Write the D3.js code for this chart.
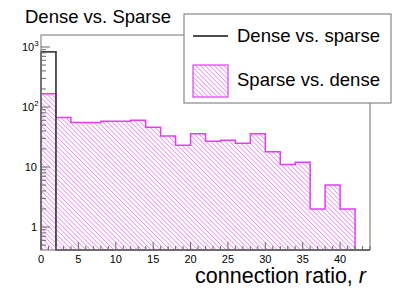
<!DOCTYPE html>
<html>
<head>
<meta charset="utf-8">
<script src="https://cdn.jsdelivr.net/npm/d3@7"></script>
<style>
  body { margin: 0; background: #fff; }
  text { font-family: "Liberation Sans", Arial, sans-serif; }
</style>
</head>
<body>
<div id="chart"></div>
<script>
var w = 411;
var h = 295;

// bins of width 2, from 0 to 44
var binLow = [0, 2, 4, 6, 8, 10, 12, 14, 16, 18, 20, 22, 24, 26, 28, 30, 32, 34, 36, 38, 40, 42];
var binWidth = 2;
var denseVsSparse = [830, 0, 0, 0, 0, 0, 0, 0, 0, 0, 0, 0, 0, 0, 0, 0, 0, 0, 0, 0, 0, 0];
var sparseVsDense = [166, 67, 55, 55, 58, 58, 60, 46, 33, 23, 36, 27, 28, 25, 36, 18, 11, 12, 2, 5, 2, 0];
var xTicks = [0, 5, 10, 15, 20, 25, 30, 35, 40];
var yTicks = [1, 10, 100, 1000];

var padL = 41, padR = 370, padT = 35, padB = 250;
var ymin = 0.414, ymax = 1585;

var svg = d3.select("#chart").append("svg")
            .attr("width", w)
            .attr("height", h);

var x = d3.scaleLinear().domain([0, 44]).range([padL, padR]);
var y = d3.scaleLog().domain([ymin, ymax]).range([padB, padT]);

// hatch pattern, lines going down to the right
var hs = 3.3;
var defs = svg.append("defs");
var pat = defs.append("pattern")
              .attr("id", "hatch")
              .attr("patternUnits", "userSpaceOnUse")
              .attr("width", hs)
              .attr("height", hs)
              .attr("patternTransform", "rotate(45)");
pat.append("rect").attr("width", hs).attr("height", hs).attr("fill", "#fff");
pat.append("line")
   .attr("x1", 0).attr("y1", 0).attr("x2", hs).attr("y2", 0)
   .attr("stroke", "#e266f2")
   .attr("stroke-width", 1.2);

function histPoints(vals) {
  var pts = [[binLow[0], 0]];
  vals.forEach(function(v, i) {
    pts.push([binLow[i], v]);
    pts.push([binLow[i] + binWidth, v]);
  });
  pts.push([44, 0]);
  return pts;
}
function yv(v) { return y(Math.max(v, ymin)); }

var sparsePts = histPoints(sparseVsDense);
var densePts = histPoints(denseVsSparse);

svg.append("path")
   .attr("d", d3.area().x(function(d) { return x(d[0]); })
                       .y0(padB)
                       .y1(function(d) { return yv(d[1]); })(sparsePts))
   .attr("fill", "url(#hatch)");

svg.append("path")
   .attr("d", d3.line().x(function(d) { return x(d[0]); })
                       .y(function(d) { return yv(d[1]); })(sparsePts))
   .attr("fill", "none")
   .attr("stroke", "#e040f0")
   .attr("stroke-width", 1.5);

svg.append("path")
   .attr("d", d3.line().x(function(d) { return x(d[0]); })
                       .y(function(d) { return yv(d[1]); })(densePts))
   .attr("fill", "none")
   .attr("stroke", "#444")
   .attr("stroke-width", 1.8);

// frame
svg.append("rect")
   .attr("x", padL).attr("y", padT)
   .attr("width", padR - padL).attr("height", padB - padT)
   .attr("fill", "none")
   .attr("stroke", "#888")
   .attr("stroke-width", 1.2);

// x axis ticks (inside)
var minorX = d3.range(0, 45, 1);
svg.selectAll("line.xminor")
   .data(minorX)
   .enter()
   .append("line")
   .attr("x1", function(d) { return x(d); })
   .attr("x2", function(d) { return x(d); })
   .attr("y1", padB)
   .attr("y2", function(d) { return d % 5 == 0 ? padB - 8 : padB - 4; })
   .attr("stroke", "#666")
   .attr("stroke-width", 1);

svg.selectAll("text.xlab")
   .data(xTicks)
   .enter()
   .append("text")
   .attr("x", function(d) { return x(d); })
   .attr("y", 263)
   .attr("text-anchor", "middle")
   .style("font-size", "11px")
   .text(function(d) { return d; });

// y axis ticks (log)
var minorY = [];
[0.1, 1, 10, 100, 1000].forEach(function(dec) {
  for (var k = 1; k < 10; k++) {
    var v = k * dec;
    if (v >= ymin && v <= ymax) minorY.push(v);
  }
});
svg.selectAll("line.yminor")
   .data(minorY)
   .enter()
   .append("line")
   .attr("x1", padL)
   .attr("x2", function(d) { return yTicks.indexOf(d) >= 0 ? padL + 9 : padL + 5; })
   .attr("y1", function(d) { return y(d); })
   .attr("y2", function(d) { return y(d); })
   .attr("stroke", "#666")
   .attr("stroke-width", 1);

var ylab = svg.selectAll("text.ylab")
   .data(yTicks)
   .enter()
   .append("text")
   .attr("y", function(d) { return y(d) + 4; })
   .style("font-size", "11px");
ylab.each(function(d) {
  var t = d3.select(this);
  if (d >= 100) {
    t.attr("x", 22);
    t.append("tspan").text("10");
    t.append("tspan").attr("dy", -5).style("font-size", "8px").text(Math.round(Math.log10(d)));
  } else {
    t.attr("x", 37).attr("text-anchor", "end").text(d);
  }
});

// axis title
var xt = svg.append("text")
   .attr("x", 366)
   .attr("y", 283)
   .attr("text-anchor", "end")
   .style("font-size", "21.5px");
xt.append("tspan").text("connection ratio, ");
xt.append("tspan").style("font-style", "italic").text("r");

// title
svg.append("text")
   .attr("x", 25)
   .attr("y", 23)
   .style("font-size", "18.5px")
   .text("Dense vs. Sparse");

// legend
svg.append("rect")
   .attr("x", 184).attr("y", 14)
   .attr("width", 207).attr("height", 89)
   .attr("fill", "#fff")
   .attr("stroke", "#888")
   .attr("stroke-width", 1.2);
svg.append("line")
   .attr("x1", 193).attr("x2", 228)
   .attr("y1", 36).attr("y2", 36)
   .attr("stroke", "#111")
   .attr("stroke-width", 1.3);
svg.append("rect")
   .attr("x", 193).attr("y", 65)
   .attr("width", 35).attr("height", 32)
   .attr("fill", "url(#hatch)")
   .attr("stroke", "#e040f0")
   .attr("stroke-width", 1.2);
svg.append("text")
   .attr("x", 237).attr("y", 42)
   .style("font-size", "18.5px")
   .text("Dense vs. sparse");
svg.append("text")
   .attr("x", 237).attr("y", 86)
   .style("font-size", "18.5px")
   .text("Sparse vs. dense");
</script>
</body>
</html>
